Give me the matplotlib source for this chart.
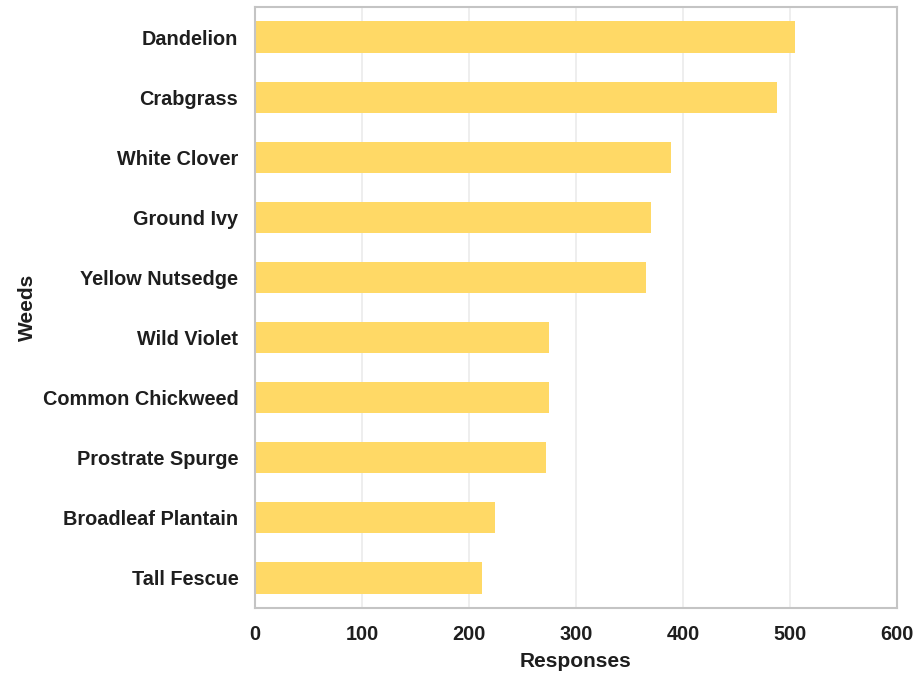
import matplotlib
matplotlib.use("Agg")
import matplotlib.pyplot as plt

# Weed categories (top to bottom) and their response counts
weeds = ["Dandelion", "Crabgrass", "White Clover", "Ground Ivy", "Yellow Nutsedge",
         "Wild Violet", "Common Chickweed", "Prostrate Spurge", "Broadleaf Plantain", "Tall Fescue"]
responses = [505, 488, 389, 370, 365, 275, 275, 272, 224, 212]
x_ticks = [0, 100, 200, 300, 400, 500, 600]

plt.rcParams["font.family"] = ["Liberation Sans", "DejaVu Sans"]
plt.rcParams["font.weight"] = "bold"

fig = plt.figure(figsize=(9.19, 6.79), dpi=100)
ax = fig.add_axes([0.2775, 0.1046, 0.6985, 0.885])

ypos = list(range(len(weeds)))[::-1]
ax.barh(ypos, responses, height=0.52, color="#FFD966", zorder=2)

ax.set_xlim(0, 600)
ax.set_ylim(-0.5, len(weeds) - 0.5)
ax.set_xticks(x_ticks)
ax.set_yticks(ypos)
ax.set_yticklabels(weeds)
ax.tick_params(axis="both", length=0, labelsize=14.3, colors="#1e1e1e")
ax.tick_params(axis="y", pad=12)
ax.tick_params(axis="x", pad=12)

ax.grid(axis="x", color="#ebebeb", linewidth=1.2, zorder=0)
for s in ax.spines.values():
    s.set_color("#c4c4c4")
    s.set_linewidth(1.5)

ax.set_xlabel("Responses", fontsize=15, fontweight="bold", color="#1e1e1e", labelpad=6)
ax.set_ylabel("Weeds", fontsize=15, fontweight="bold", color="#1e1e1e", labelpad=4)

fig.savefig("out.png", dpi=100)
